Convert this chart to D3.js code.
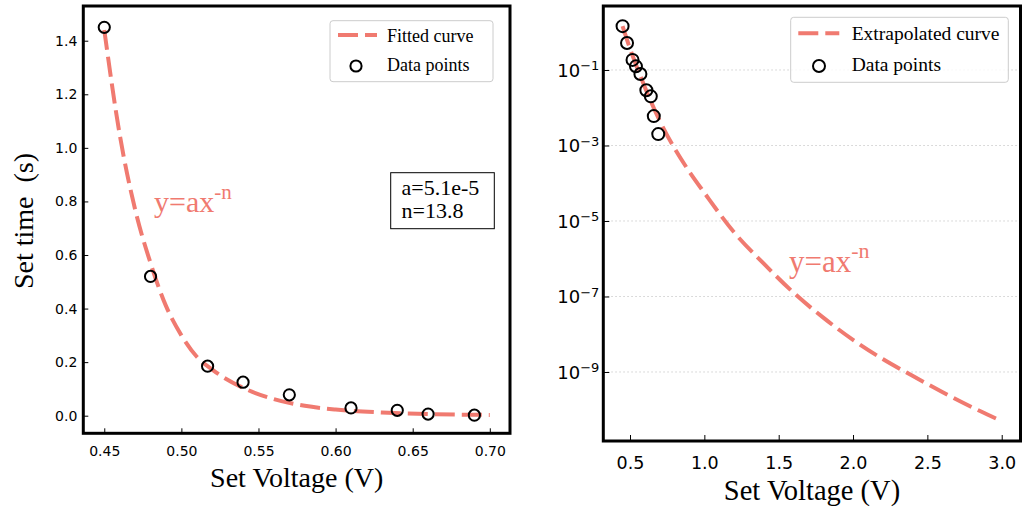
<!DOCTYPE html>
<html>
<head>
<meta charset="utf-8">
<script src="https://cdn.jsdelivr.net/npm/d3@7"></script>
<style>
  html, body { margin: 0; padding: 0; background: #fff; }
  svg { display: block; }
</style>
</head>
<body>
<svg id="chart" width="1022" height="508"></svg>
<script>
// ---------------- data ----------------
const voltages = [0.45, 0.48, 0.517, 0.54, 0.57, 0.61, 0.64, 0.66, 0.69];
const setTimes = [1.45, 0.52, 0.185, 0.125, 0.078, 0.029, 0.02, 0.006, 0.002];

const fitLeftX = [0.45, 0.46, 0.47, 0.48, 0.49, 0.50, 0.51, 0.52, 0.54, 0.56, 0.58, 0.60, 0.63, 0.66, 0.70];
const fitLeftY = [1.44, 1.05, 0.77, 0.57, 0.41, 0.30, 0.22, 0.172, 0.104, 0.062, 0.037, 0.023, 0.012, 0.006, 0.003];

const fitRightX = [0.45, 0.5, 0.55, 0.6, 0.7, 0.8, 0.9, 1.0, 1.2, 1.4, 1.6, 1.8, 2.0, 2.2, 2.4, 2.6, 2.8, 3.0];
const fitRightY = [1.45, 0.37, 0.11, 0.035, 4.5e-3, 8.3e-4, 2e-4, 5.6e-5, 5e-6, 7.4e-7, 1.26e-7, 2.75e-8, 7.1e-9, 2.2e-9, 7.9e-10, 2.95e-10, 1.17e-10, 5e-11];

const leftXTicks = [0.45, 0.50, 0.55, 0.60, 0.65, 0.70];
const leftYTicks = [0.0, 0.2, 0.4, 0.6, 0.8, 1.0, 1.2, 1.4];
const rightXTicks = [0.5, 1.0, 1.5, 2.0, 2.5, 3.0];
const rightYExponents = [-1, -3, -5, -7, -9];

const leftLegend = ["Fitted curve", "Data points"];
const rightLegend = ["Extrapolated curve", "Data points"];
const annotationLines = ["a=5.1e-5", "n=13.8"];

const salmon = "#F07A70";
const tickFont = "DejaVu Sans";
const serif = "Liberation Serif, Times New Roman, serif";

const svg = d3.select("#chart");

// ---------------- LEFT PANEL ----------------
const L = { x0: 83.3, x1: 510, y0: 6, y1: 433.3 };
const xL = d3.scaleLinear().domain([0.4364, 0.7131]).range([L.x0, L.x1]);
const yL = d3.scaleLinear().domain([-0.0657, 1.5296]).range([L.y1, L.y0]);

const gL = svg.append("g");

const axLB = gL.append("g").attr("transform", `translate(0,${L.y1})`)
  .call(d3.axisBottom(xL).tickValues(leftXTicks).tickFormat(d3.format(".2f"))
    .tickSizeInner(-5).tickSizeOuter(0).tickPadding(12.5));
const axLL = gL.append("g").attr("transform", `translate(${L.x0},0)`)
  .call(d3.axisLeft(yL).tickValues(leftYTicks).tickFormat(d3.format(".1f"))
    .tickSizeInner(-5).tickSizeOuter(0).tickPadding(6));
[axLB, axLL].forEach(a => {
  a.select(".domain").remove();
  a.selectAll("text").attr("font-family", tickFont).attr("font-size", 14).attr("fill", "#000");
  a.selectAll("line").attr("stroke", "#000").attr("stroke-width", 1);
});

const lineL = d3.line().x(d => xL(d[0])).y(d => yL(d[1])).curve(d3.curveMonotoneX);
gL.append("path")
  .datum(fitLeftX.map((x, i) => [x, fitLeftY[i]]))
  .attr("d", lineL).attr("fill", "none").attr("stroke", salmon)
  .attr("stroke-width", 4).attr("stroke-dasharray", "20,7");

gL.selectAll("circle.pt").data(voltages.map((v, i) => [v, setTimes[i]]))
  .enter().append("circle").attr("class", "pt")
  .attr("cx", d => xL(d[0])).attr("cy", d => yL(d[1])).attr("r", 5.6)
  .attr("fill", "none").attr("stroke", "#000").attr("stroke-width", 2);

gL.append("rect").attr("x", L.x0).attr("y", L.y0)
  .attr("width", L.x1 - L.x0).attr("height", L.y1 - L.y0)
  .attr("fill", "none").attr("stroke", "#000").attr("stroke-width", 3);

const lgL = gL.append("g");
lgL.append("rect").attr("x", 330).attr("y", 20.7).attr("width", 163).attr("height", 61)
  .attr("rx", 3).attr("fill", "#fff").attr("fill-opacity", 0.8)
  .attr("stroke", "#cccccc").attr("stroke-width", 1);
lgL.append("line").attr("x1", 338).attr("x2", 377).attr("y1", 35).attr("y2", 35)
  .attr("stroke", salmon).attr("stroke-width", 4).attr("stroke-dasharray", "20,7");
lgL.append("circle").attr("cx", 356).attr("cy", 66).attr("r", 5.6)
  .attr("fill", "none").attr("stroke", "#000").attr("stroke-width", 2);
lgL.selectAll("text").data(leftLegend).enter().append("text")
  .attr("x", 387).attr("y", (d, i) => i === 0 ? 41.5 : 70.5)
  .attr("font-family", serif).attr("font-size", 18).attr("fill", "#000").text(d => d);

gL.append("rect").attr("x", 390.7).attr("y", 172.7).attr("width", 103.6).attr("height", 56)
  .attr("fill", "#fff").attr("stroke", "#000").attr("stroke-width", 1);
gL.selectAll("text.ann").data(annotationLines).enter().append("text").attr("class", "ann")
  .attr("x", 401.5).attr("y", (d, i) => 195 + i * 23.3)
  .attr("font-family", serif).attr("font-size", 22).attr("fill", "#000").text(d => d);

function formula(g, x, y, size, supSize, supRise) {
  const t = g.append("text").attr("x", x).attr("y", y)
    .attr("font-family", serif).attr("font-size", size).attr("fill", salmon);
  t.append("tspan").text("y=ax");
  t.append("tspan").attr("dy", -supRise).attr("font-size", supSize).text("-n");
}
formula(gL, 154, 211.7, 30, 21, 12.4);

gL.append("text").attr("x", 296.7).attr("y", 487)
  .attr("text-anchor", "middle").attr("font-family", serif).attr("font-size", 28)
  .attr("fill", "#000").text("Set Voltage (V)");
gL.append("text").attr("transform", "translate(33,221) rotate(-90)")
  .attr("text-anchor", "middle").attr("font-family", serif).attr("font-size", 28)
  .attr("fill", "#000").style("white-space", "pre").text("Set time  (s)");

// ---------------- RIGHT PANEL ----------------
const R = { x0: 603.3, x1: 1020.5, y0: 6, y1: 441 };
const xR = d3.scaleLinear().domain([0.3204, 3.1297]).range([R.x0, 1021]);
const yR = d3.scaleLog().domain([Math.pow(10, -10.828), Math.pow(10, 0.695)]).range([R.y1, R.y0]);
const rightYTicks = rightYExponents.map(e => Math.pow(10, e));

const gR = svg.append("g");

gR.selectAll("line.grid").data(rightYTicks).enter().append("line").attr("class", "grid")
  .attr("x1", R.x0).attr("x2", R.x1).attr("y1", d => yR(d)).attr("y2", d => yR(d))
  .attr("stroke", "#cfcfcf").attr("stroke-width", 1).attr("stroke-dasharray", "1.5,2.5");

const axRB = gR.append("g").attr("transform", `translate(0,${R.y1})`)
  .call(d3.axisBottom(xR).tickValues(rightXTicks).tickFormat(d3.format(".1f"))
    .tickSizeInner(-6).tickSizeOuter(0).tickPadding(15.8));
const axRL = gR.append("g").attr("transform", `translate(${R.x0},0)`)
  .call(d3.axisLeft(yR).tickValues(rightYTicks).tickFormat(() => "")
    .tickSizeInner(-6).tickSizeOuter(0).tickPadding(4));
[axRB, axRL].forEach(a => {
  a.select(".domain").remove();
  a.selectAll("line").attr("stroke", "#000").attr("stroke-width", 1);
});
axRB.selectAll("text").attr("font-family", tickFont).attr("font-size", 17.5).attr("fill", "#000");
axRL.selectAll(".tick text").each(function (d) {
  const t = d3.select(this).attr("font-family", tickFont).attr("font-size", 18)
    .attr("fill", "#000").attr("dy", "0.36em");
  const e = Math.round(Math.log10(d));
  t.append("tspan").text("10");
  t.append("tspan").attr("dy", "-0.5em").attr("font-size", 13).text("\u2212" + Math.abs(e));
});

const lineR = d3.line().x(d => xR(d[0])).y(d => yR(d[1])).curve(d3.curveMonotoneX);
gR.append("path")
  .datum(fitRightX.map((x, i) => [x, fitRightY[i]]))
  .attr("d", lineR).attr("fill", "none").attr("stroke", salmon)
  .attr("stroke-width", 4).attr("stroke-dasharray", "20,7");

gR.selectAll("circle.pt").data(voltages.map((v, i) => [v, setTimes[i]]))
  .enter().append("circle").attr("class", "pt")
  .attr("cx", d => xR(d[0])).attr("cy", d => yR(d[1])).attr("r", 6)
  .attr("fill", "none").attr("stroke", "#000").attr("stroke-width", 2);

gR.append("rect").attr("x", R.x0).attr("y", R.y0)
  .attr("width", R.x1 - R.x0).attr("height", R.y1 - R.y0)
  .attr("fill", "none").attr("stroke", "#000").attr("stroke-width", 3);

const lgR = gR.append("g");
lgR.append("rect").attr("x", 790.7).attr("y", 17.3).attr("width", 217.6).attr("height", 65)
  .attr("rx", 3).attr("fill", "#fff").attr("fill-opacity", 0.8)
  .attr("stroke", "#cccccc").attr("stroke-width", 1);
lgR.append("line").attr("x1", 798.3).attr("x2", 839.3).attr("y1", 33.3).attr("y2", 33.3)
  .attr("stroke", salmon).attr("stroke-width", 4).attr("stroke-dasharray", "20,7");
lgR.append("circle").attr("cx", 819).attr("cy", 66).attr("r", 6)
  .attr("fill", "none").attr("stroke", "#000").attr("stroke-width", 2);
lgR.selectAll("text").data(rightLegend).enter().append("text")
  .attr("x", 851.7).attr("y", (d, i) => i === 0 ? 40 : 70.5)
  .attr("font-family", serif).attr("font-size", 19.5).attr("fill", "#000").text(d => d);

formula(gR, 789, 271.7, 31, 22, 13.4);

gR.append("text").attr("x", 812).attr("y", 499.5)
  .attr("text-anchor", "middle").attr("font-family", serif).attr("font-size", 28.5)
  .attr("fill", "#000").text("Set Voltage (V)");
</script>
</body>
</html>
